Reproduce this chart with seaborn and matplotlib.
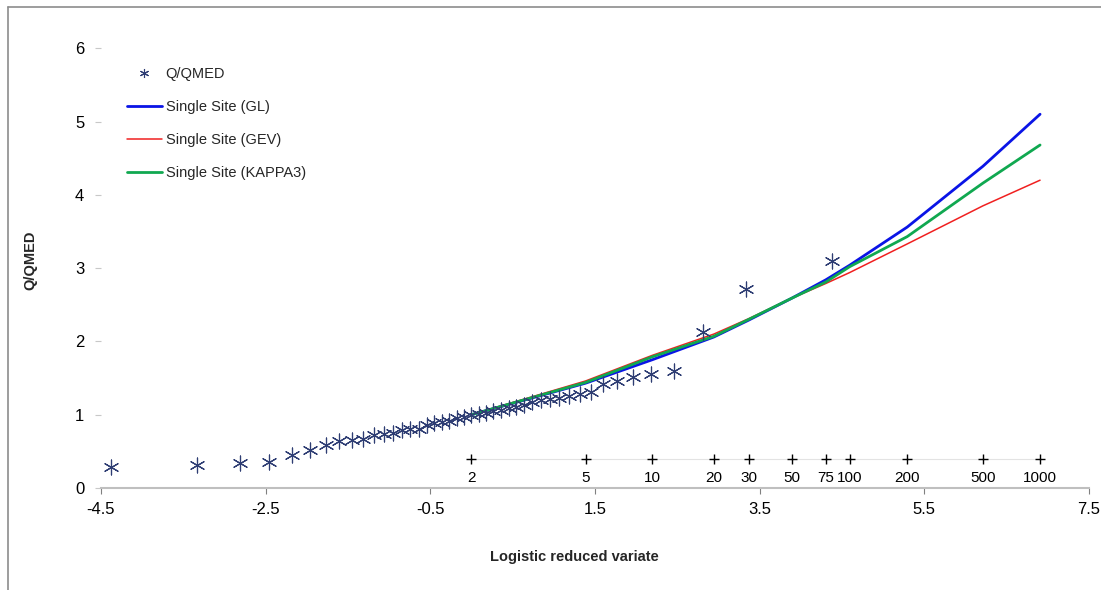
import matplotlib
matplotlib.use("Agg")
import pandas as pd
import matplotlib.pyplot as plt
from matplotlib.lines import Line2D
import seaborn as sns

# observed Q/QMED against logistic reduced variate (plotting positions)
obs_x = [-4.377, -3.329, -2.811, -2.457, -2.185, -1.962, -1.771, -1.603, -1.452, -1.314,
         -1.186, -1.066, -0.953, -0.845, -0.741, -0.642, -0.545, -0.451, -0.358, -0.268,
         -0.178, -0.089, 0.0, 0.089, 0.178, 0.268, 0.358, 0.451, 0.545, 0.642,
         0.741, 0.845, 0.953, 1.066, 1.186, 1.314, 1.452, 1.603, 1.771, 1.962,
         2.185, 2.457, 2.811, 3.329, 4.377]
obs_q = [0.29, 0.31, 0.34, 0.35, 0.45, 0.52, 0.59, 0.645, 0.66, 0.67,
         0.72, 0.74, 0.75, 0.79, 0.80, 0.81, 0.86, 0.88, 0.90, 0.92,
         0.95, 0.97, 1.00, 1.01, 1.02, 1.05, 1.07, 1.09, 1.11, 1.13,
         1.18, 1.20, 1.22, 1.23, 1.255, 1.28, 1.31, 1.42, 1.46, 1.51,
         1.55, 1.59, 2.13, 2.72, 3.10]

# return periods (years) and where they sit on the x axis
rp_labels = ['2', '5', '10', '20', '30', '50', '75', '100', '200', '500', '1000']
rp_x = [0.0, 1.386, 2.197, 2.944, 3.367, 3.892, 4.304, 4.595, 5.293, 6.213, 6.907]
rp_y = 0.4

# fitted growth curves at the return periods
gl = [1.0, 1.43, 1.75, 2.06, 2.29, 2.59, 2.84, 3.04, 3.56, 4.39, 5.10]
gev = [1.0, 1.46, 1.81, 2.10, 2.31, 2.59, 2.79, 2.94, 3.33, 3.85, 4.20]
kappa3 = [1.0, 1.44, 1.79, 2.07, 2.30, 2.59, 2.81, 3.02, 3.43, 4.16, 4.68]

x_ticks = [-4.5, -2.5, -0.5, 1.5, 3.5, 5.5, 7.5]
y_ticks = [0, 1, 2, 3, 4, 5, 6]

sns.set_theme(style="white")
plt.rcParams['font.family'] = ['Liberation Sans', 'DejaVu Sans']

fig = plt.figure(figsize=(11.01, 5.90), dpi=100)
ax = fig.add_axes([0.0917, 0.1729, 0.8973, 0.7453])

star = (6, 2, 0)
star_col = '#2E3D73'

# return period scale
ax.plot(rp_x, [rp_y] * len(rp_x), color='#E3E3E3', lw=0.8, zorder=1)
sns.scatterplot(x=rp_x, y=[rp_y] * len(rp_x), marker='+', color='black', s=60,
                linewidth=1.0, ax=ax, zorder=3)
for lab, xv in zip(rp_labels, rp_x):
    ax.annotate(lab, (xv, rp_y), xytext=(0, -14), textcoords='offset points',
                ha='center', va='center', fontsize=11, color='black')

# fitted curves
curves = pd.DataFrame({'x': rp_x, 'GL': gl, 'GEV': gev, 'KAPPA3': kappa3})
sns.lineplot(data=curves, x='x', y='GL', color='#0A14E6', lw=2.0, ax=ax, zorder=4)
sns.lineplot(data=curves, x='x', y='GEV', color='#F02020', lw=1.1, ax=ax, zorder=5)
sns.lineplot(data=curves, x='x', y='KAPPA3', color='#10A850', lw=2.0, ax=ax, zorder=6)

# observations
sns.scatterplot(x=obs_x, y=obs_q, marker=star, color=star_col, s=115,
                linewidth=0.85, ax=ax, zorder=7)

ax.set_xlim(-4.5, 7.5)
ax.set_ylim(0, 6)
ax.set_xticks(x_ticks)
ax.set_xticklabels([str(t) for t in x_ticks])
ax.set_yticks(y_ticks)

for s in ['top', 'right', 'left']:
    ax.spines[s].set_visible(False)
ax.spines['bottom'].set_color('#BFBFBF')
ax.spines['bottom'].set_linewidth(1.5)
ax.tick_params(axis='x', which='both', bottom=True, length=4, width=0.8,
               color='#808080', labelsize=12, pad=6, labelcolor='black')
ax.tick_params(axis='y', which='both', left=True, length=4, width=0.8,
               color='#C8C8C8', labelsize=12, pad=8, labelcolor='black')

ax.set_xlabel('Logistic reduced variate', fontsize=10.5, fontweight='bold')
ax.set_ylabel('Q/QMED', fontsize=10.5, fontweight='bold')
ax.xaxis.set_label_coords(0.479, -0.142)
ax.yaxis.set_label_coords(-0.064, 0.519)

handles = [
    Line2D([], [], marker=star, ls='none', color=star_col, markersize=6.5, markeredgewidth=0.8),
    Line2D([], [], color='#0A14E6', lw=2.0),
    Line2D([], [], color='#F02020', lw=1.1),
    Line2D([], [], color='#10A850', lw=2.0),
]
labels = ['Q/QMED', 'Single Site (GL)', 'Single Site (GEV)', 'Single Site (KAPPA3)']
ax.legend(handles, labels, loc='upper left', bbox_to_anchor=(0.026, 0.957),
          frameon=False, fontsize=10.5, handlelength=2.4, handletextpad=0.27,
          labelspacing=1.3, borderpad=0, borderaxespad=0)

# chart-area border (left and top edges visible)
fig.add_artist(Line2D([8 / 1101, 8 / 1101], [0, 1 - 7 / 590], transform=fig.transFigure,
                      color='#8C8C8C', lw=1.2))
fig.add_artist(Line2D([8 / 1101, 1], [1 - 7 / 590, 1 - 7 / 590], transform=fig.transFigure,
                      color='#8C8C8C', lw=1.2))

fig.savefig('out.png', dpi=100)
